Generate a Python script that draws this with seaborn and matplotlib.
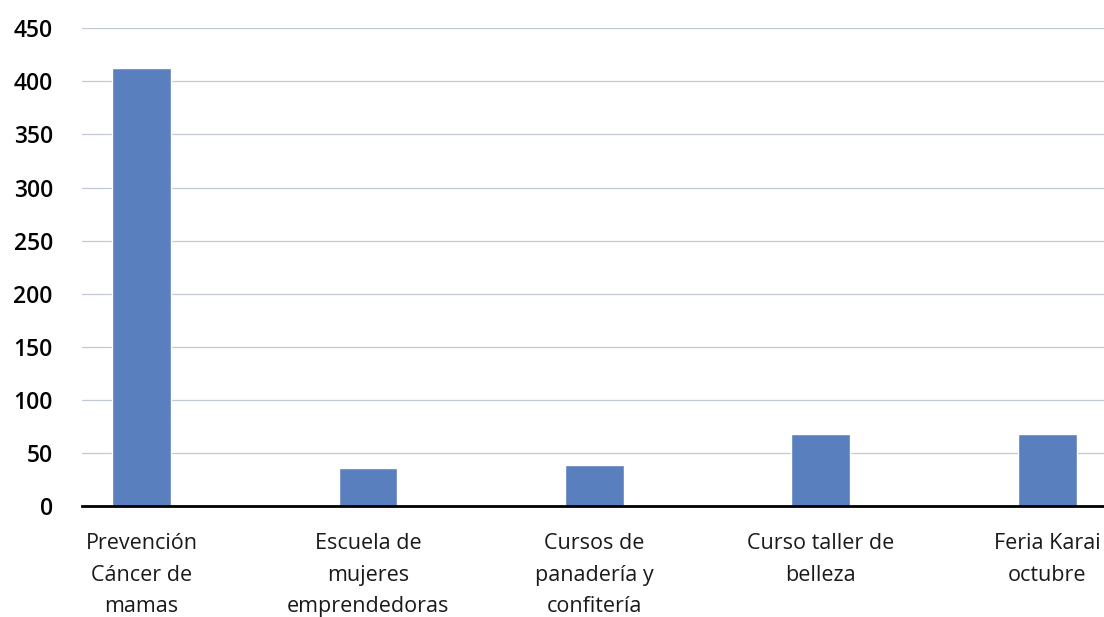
"""
Participantes por actividad - gráfico de barras
"""

import matplotlib
matplotlib.use('Agg')
import matplotlib.pyplot as plt
import pandas as pd
import seaborn as sns

# datos
actividades = [
    'Prevención\nCáncer de\nmamas',
    'Escuela de\nmujeres\nemprendedoras',
    'Cursos de\npanadería y\nconfitería',
    'Curso taller de\nbelleza',
    'Feria Karai\noctubre',
]
participantes = [412, 36, 39, 68, 68]
y_ticks = [0, 50, 100, 150, 200, 250, 300, 350, 400, 450]

sns.set_style('white')
plt.rcParams['font.family'] = ['Open Sans', 'DejaVu Sans']

df = pd.DataFrame({'actividad': actividades, 'valor': participantes})

fig = plt.figure(figsize=(11.04, 6.17), dpi=100)
ax = fig.add_axes([0.0743, 0.1793, 0.9257, 0.7752])

sns.barplot(data=df, x='actividad', y='valor', color='#5A7FBF',
            width=0.26, saturation=1, ax=ax)

ax.set_xlim(-0.263, 4.25)
ax.set_ylim(0, 450)
ax.set_yticks(y_ticks)
ax.set_yticklabels([str(v) for v in y_ticks], fontsize=16.5,
                   fontweight='semibold', color='black')
ax.set_xticks(range(len(actividades)))
ax.set_xticklabels(actividades, fontsize=15.5, linespacing=1.64, color='#1A1A1A')
ax.tick_params(axis='y', length=0, pad=21)
ax.tick_params(axis='x', length=0, pad=19.5)
ax.set_xlabel('')
ax.set_ylabel('')

# líneas de cuadrícula
ax.grid(axis='y', color='#C3C9D2', linewidth=0.9)
ax.set_axisbelow(True)
for s in ['top', 'right', 'left']:
    ax.spines[s].set_visible(False)
ax.spines['bottom'].set_color('black')
ax.spines['bottom'].set_linewidth(2)
ax.spines['bottom'].set_zorder(5)

fig.savefig('out.png', dpi=100)
